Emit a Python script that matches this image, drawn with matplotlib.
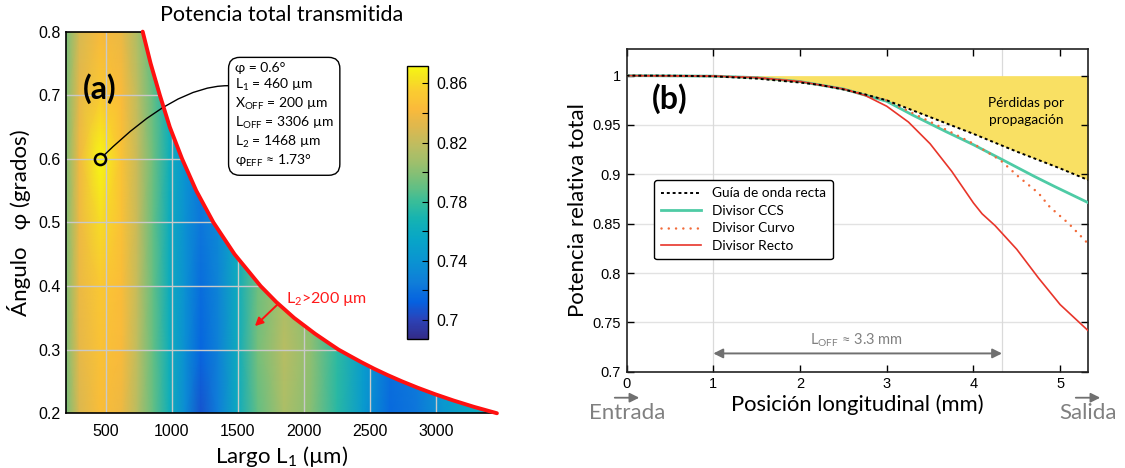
import numpy as np
import matplotlib
matplotlib.use('Agg')
import matplotlib.pyplot as plt
from matplotlib.colors import LinearSegmentedColormap
from matplotlib.patches import Polygon, FancyArrowPatch
from matplotlib.ticker import FixedLocator

plt.rcParams['font.family'] = ['Lato', 'DejaVu Sans']
plt.rcParams['mathtext.fontset'] = 'custom'
plt.rcParams['mathtext.rm'] = 'Lato'
plt.rcParams['mathtext.it'] = 'Lato:italic'
plt.rcParams['mathtext.bf'] = 'Lato:bold'

# ---------------- panel (a): transmitted power map ----------------
l1_grid = [200, 300, 460, 620, 740, 860, 980, 1100, 1220, 1350, 1500,
           1650, 1850, 2050, 2250, 2450, 2650, 2850, 3050, 3250, 3460]
phi_grid = [0.2, 0.3, 0.4, 0.5, 0.6, 0.7, 0.8]

power_phi_02 = [.795, .830, .845, .838, .815, .790, .765, .735, .707, .726, .760,
                .790, .812, .800, .775, .745, .716, .722, .742, .757, .765]
power_phi_03 = [.797, .834, .848, .842, .818, .790, .763, .737, .715, .728, .762,
                .795, .816, .802, .776, .748, .720, .725, .745, .758, .765]
power_phi_04 = [.798, .836, .852, .844, .820, .790, .762, .738, .718, .730, .762,
                .793, .812, .800, .776, .748, .720, .725, .745, .758, .765]
power_phi_05 = [.798, .838, .861, .847, .822, .790, .762, .738, .722, .732, .760,
                .792, .810, .800, .776, .748, .720, .725, .745, .758, .765]
power_phi_06 = [.798, .839, .872, .848, .822, .792, .765, .740, .722, .732, .760,
                .792, .810, .800, .776, .748, .720, .725, .745, .758, .765]
power_phi_07 = [.797, .834, .853, .843, .818, .790, .763, .740, .722, .732, .760,
                .792, .810, .800, .776, .748, .720, .725, .745, .758, .765]
power_phi_08 = [.795, .828, .842, .836, .812, .788, .762, .740, .722, .732, .760,
                .792, .810, .800, .776, .748, .720, .725, .745, .758, .765]

# L2 = 200 um limit (red curve)
boundary_phi = [0.8, 0.75, 0.7, 0.65, 0.6, 0.55, 0.5, 0.45, 0.4, 0.375, 0.35,
                0.325, 0.31, 0.3, 0.29, 0.28, 0.27, 0.26, 0.25, 0.24, 0.23,
                0.22, 0.21, 0.2]
boundary_l1 = [780, 840, 910, 985, 1078, 1185, 1315, 1475, 1672, 1790, 1925,
               2084, 2190, 2262, 2349, 2437, 2531, 2633, 2743, 2862, 2991,
               3132, 3287, 3460]

opt_l1 = 460
opt_phi = 0.6

# ---------------- panel (b): power along the device ----------------
pos_guide = [0, 0.5, 1.0, 1.5, 2.0, 2.23, 2.5, 2.75, 3.0, 3.5, 4.0, 4.5, 5.0, 5.33]
guide = [1.0, 1.0, 0.9993, 0.997, 0.993, 0.9906, 0.986, 0.981, 0.975, 0.958,
         0.941, 0.923, 0.906, 0.894]

pos_ccs = [0, 1.0, 1.5, 2.0, 2.5, 3.0, 3.3, 3.69, 4.0, 4.33, 4.7, 4.94, 5.33]
ccs = [1.0, 0.9995, 0.998, 0.994, 0.9865, 0.974, 0.960, 0.943, 0.930, 0.915,
       0.898, 0.8875, 0.871]

pos_curvo = [0, 1.0, 1.5, 2.0, 2.5, 3.0, 3.3, 3.69, 4.0, 4.31, 4.52, 4.75, 4.88, 5.1, 5.33]
curvo = [1.0, 0.9995, 0.998, 0.994, 0.9865, 0.975, 0.962, 0.945, 0.931, 0.9144,
         0.8976, 0.881, 0.867, 0.850, 0.829]

pos_recto = [0, 1.0, 1.5, 2.0, 2.5, 2.75, 3.0, 3.25, 3.5, 3.75, 4.0, 4.1, 4.25,
             4.5, 4.75, 5.0, 5.33]
recto = [1.0, 0.9995, 0.998, 0.994, 0.9865, 0.980, 0.969, 0.953, 0.931, 0.903,
         0.871, 0.860, 0.848, 0.824, 0.795, 0.768, 0.741]

loff_start = 1.0
loff_end = 4.33

# parula-like colour map (colour stops along 0.687 .. 0.872)
stops = [(0.687, (0.20, 0.17, 0.53)), (0.700, (0.17, 0.26, 0.72)),
         (0.712, (0.02, 0.38, 0.88)), (0.725, (0.06, 0.49, 0.85)),
         (0.740, (0.04, 0.58, 0.82)), (0.755, (0.03, 0.65, 0.78)),
         (0.768, (0.08, 0.70, 0.70)), (0.780, (0.22, 0.74, 0.60)),
         (0.792, (0.42, 0.75, 0.50)), (0.805, (0.60, 0.75, 0.43)),
         (0.818, (0.74, 0.74, 0.38)), (0.832, (0.88, 0.72, 0.30)),
         (0.843, (0.98, 0.73, 0.23)), (0.855, (0.98, 0.80, 0.19)),
         (0.865, (0.96, 0.90, 0.12)), (0.872, (0.97, 0.97, 0.07))]
vmin, vmax = 0.687, 0.872
parula = LinearSegmentedColormap.from_list(
    'parula_like', [((v - vmin) / (vmax - vmin), c) for v, c in stops])

fig = plt.figure(figsize=(11.25, 4.68), dpi=100)

# ---- (a) ----
ax = fig.add_axes([0.0587, 0.117, 0.383, 0.8154])
X, Y = np.meshgrid(l1_grid, phi_grid)
C = np.array([power_phi_02, power_phi_03, power_phi_04, power_phi_05,
              power_phi_06, power_phi_07, power_phi_08])
mesh = ax.pcolormesh(X, Y, C, shading='gouraud', cmap=parula, vmin=vmin, vmax=vmax)

region = Polygon(list(zip([200, 200] + boundary_l1, [0.2, 0.8] + boundary_phi)),
                 closed=True, facecolor='none', edgecolor='none')
ax.add_patch(region)
mesh.set_clip_path(region)

xt = [500, 1000, 1500, 2000, 2500, 3000]
yt = [0.2, 0.3, 0.4, 0.5, 0.6, 0.7, 0.8]
for xv in xt:
    gl, = ax.plot([xv, xv], [0.2, 0.8], color='#c9c9c9', lw=1.0)
    gl.set_clip_path(region)
for yv in yt[1:-1]:
    gl, = ax.plot([200, 3460], [yv, yv], color='#c9c9c9', lw=1.0)
    gl.set_clip_path(region)

ax.plot([200, boundary_l1[0]], [0.8, 0.8], color='k', lw=1.2, clip_on=False)
ax.plot(boundary_l1, boundary_phi, color='#ff1010', lw=2.8,
        solid_capstyle='round', solid_joinstyle='round', clip_on=False, zorder=5)

ax.set_xlim(200, 3460)
ax.set_ylim(0.2, 0.8)
ax.set_xticks(xt)
ax.set_yticks(yt)
ax.set_yticklabels(['0.2', '0.3', '0.4', '0.5', '0.6', '0.7', '0.8'])
ax.tick_params(length=0, labelsize=11.5)
ax.tick_params(axis='x', pad=8)
ax.tick_params(axis='y', pad=4)
for s in ['top', 'right']:
    ax.spines[s].set_visible(False)
for s in ['left', 'bottom']:
    ax.spines[s].set_linewidth(1.2)

ax.set_title('Potencia total transmitida', fontsize=15.5, pad=8)
ax.set_xlabel('Largo L$_1$ (µm)', fontsize=16, labelpad=3)
ax.set_ylabel('Ángulo   φ (grados)', fontsize=16, labelpad=5)

ax.plot(opt_l1, opt_phi, 'o', ms=8, mfc='none', mec='k', mew=1.8, zorder=6)
ax.annotate('', xy=(opt_l1, opt_phi), xytext=(1424, 0.715),
            arrowprops=dict(arrowstyle='-', color='k', lw=1,
                            connectionstyle='angle3,angleA=0,angleB=45',
                            shrinkA=0, shrinkB=4))
box_txt = ('φ = 0.6°\n'
           'L$_1$ = 460 µm\n'
           'X$_{\\mathrm{OFF}}$ = 200 µm\n'
           'L$_{\\mathrm{OFF}}$ = 3306 µm\n'
           'L$_2$ = 1468 µm\n'
           'φ$_{\\mathrm{EFF}}$ ≈ 1.73°')
ax.text(1477, 0.753, box_txt, ha='left', va='top', fontsize=10, linespacing=1.25,
        bbox=dict(boxstyle='round,pad=0.45,rounding_size=0.8', fc='white',
                  ec='black', lw=1), zorder=7)

ax.text(458, 0.71, '(a)', fontsize=23, fontweight='bold', ha='center', va='center')
ax.text(1864, 0.3797, 'L$_2$>200 µm', color='#ff1a1a', fontsize=11.5,
        ha='left', va='center')
ax.annotate('', xy=(1629, 0.337), xytext=(1805, 0.372),
            arrowprops=dict(arrowstyle='-|>', color='#ff1010', lw=1.4,
                            mutation_scale=12, shrinkA=0, shrinkB=0))

cax = fig.add_axes([0.3615, 0.275, 0.0192, 0.5846])
cb = fig.colorbar(mesh, cax=cax)
cb.set_ticks([0.70, 0.74, 0.78, 0.82, 0.86])
cb.set_ticklabels(['0.7', '0.74', '0.78', '0.82', '0.86'])
cax.yaxis.set_minor_locator(FixedLocator([0.72, 0.76, 0.80, 0.84]))
cax.tick_params(which='both', direction='in', length=4, width=0.8, labelsize=11.5, pad=6)
cb.outline.set_linewidth(1.0)

# ---- (b) ----
bx = fig.add_axes([0.557, 0.2058, 0.410, 0.6895])
for yv in [0.75, 0.8, 0.85, 0.9, 0.95]:
    bx.axhline(yv, color='#e2e2e2', lw=1.0, zorder=0)
for xv in [loff_start, loff_end]:
    bx.axvline(xv, color='#dadada', lw=0.9, zorder=0)

bx.fill_between(pos_guide, guide, 1.0, color='#f9e063', lw=0, zorder=1)
bx.plot(pos_ccs, ccs, color='#4ecba5', lw=2.0, label='Divisor CCS', zorder=3)
bx.plot(pos_curvo, curvo, color='#f26b3a', ls=(0, (0.01, 2.9)), lw=1.8,
        dash_capstyle='round', label='Divisor Curvo', zorder=3)
bx.plot(pos_recto, recto, color='#e8352a', lw=1.2, label='Divisor Recto', zorder=3)
bx.plot(pos_guide, guide, color='k', ls=(0, (1.5, 1.5)), lw=1.4,
        label='Guía de onda recta', zorder=4)

handles, labels = bx.get_legend_handles_labels()
order = [3, 0, 1, 2]
leg = bx.legend([handles[i] for i in order], [labels[i] for i in order],
                loc='upper left', bbox_to_anchor=(0.059, 0.594), borderaxespad=0,
                fontsize=9.8, frameon=True, fancybox=True, edgecolor='k',
                framealpha=1, handlelength=2.9, labelspacing=0.4, borderpad=0.55)
leg.get_frame().set_linewidth(1.0)

bx.set_xlim(0, 5.32)
bx.set_ylim(0.7, 1.027)
bx.set_xticks([0, 1, 2, 3, 4, 5])
bx.set_yticks([0.7, 0.75, 0.8, 0.85, 0.9, 0.95, 1.0])
bx.set_yticklabels(['0.7', '0.75', '0.8', '0.85', '0.9', '0.95', '1'])
bx.tick_params(direction='in', top=True, right=True, length=5, width=1,
               labelsize=10.5, pad=4)
for s in bx.spines.values():
    s.set_linewidth(1.2)
    s.set_color('#222222')

bx.set_xlabel('Posición longitudinal (mm)', fontsize=15.8, labelpad=2)
bx.set_ylabel('Potencia relativa total', fontsize=16, labelpad=3)

bx.text(0.495, 0.977, '(b)', fontsize=23, fontweight='bold', ha='center', va='center')
bx.text(4.61, 0.9635, 'Pérdidas por\npropagación', fontsize=9.8, ha='center',
        va='center', linespacing=1.5)
bx.annotate('', xy=(loff_start, 0.7185), xytext=(loff_end, 0.7185),
            arrowprops=dict(arrowstyle='<|-|>', color='#707070', lw=1.4,
                            mutation_scale=14, shrinkA=0, shrinkB=0))
bx.text(2.65, 0.7313, 'L$_{\\mathrm{OFF}}$ ≈ 3.3 mm', color='#808080', fontsize=10.5,
        ha='center', va='center')

# entrada / salida marks under panel (b)
fig.text(627 / 1125, 0.1175, 'Entrada', color='#808080', fontsize=16,
         ha='center', va='center')
fig.text(1088 / 1125, 0.1175, 'Salida', color='#808080', fontsize=16,
         ha='center', va='center')
for x0 in [612, 1073]:
    fig.add_artist(FancyArrowPatch((x0 / 1125, 0.1502), ((x0 + 30) / 1125, 0.1502),
                                   transform=fig.transFigure, arrowstyle='-|>',
                                   mutation_scale=14, color='#707070', lw=1.3))

for a in (ax, bx, cax):
    for lab in a.get_xticklabels() + a.get_yticklabels():
        lab.set_fontfamily('Liberation Sans')

fig.savefig('out.png', dpi=100)
